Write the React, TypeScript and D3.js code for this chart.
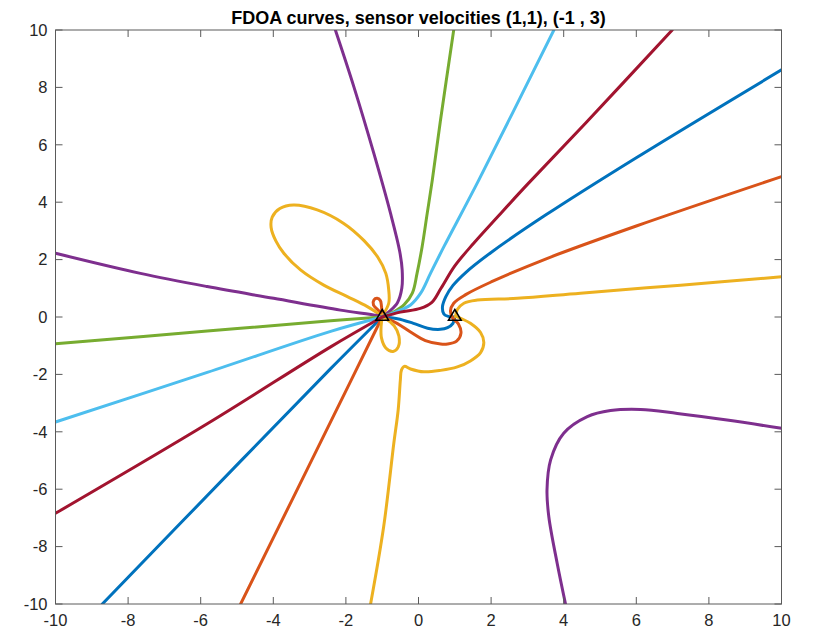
import React from 'react';
import * as d3 from 'd3';

type Pt = [number, number];

const title = 'FDOA curves, sensor velocities (1,1), (-1 , 3)';
const xTicks = [-10, -8, -6, -4, -2, 0, 2, 4, 6, 8, 10];
const yTicks = [-10, -8, -6, -4, -2, 0, 2, 4, 6, 8, 10];
const tickLabels = ['-10', '-8', '-6', '-4', '-2', '0', '2', '4', '6', '8', '10'];

const sensors: Pt[] = [[-1, 0], [1, 0]];

// blue contour
const blueUpper: Pt[] = [
  [10, 8.61], [6, 5.55], [3.5, 3.55], [2.0, 2.25], [1.3, 1.55], [0.95, 1.1],
  [0.75, 0.7], [0.66, 0.35], [0.7, 0.1], [0.82, 0.02], [1.0, 0.0],
];
const blueMiddle: Pt[] = [
  [1.0, 0.0], [0.95, -0.22], [0.8, -0.37], [0.6, -0.43], [0.25, -0.39], [-0.14, -0.22],
  [-0.58, -0.06], [-1, 0],
];
const blueLower: Pt[] = [[-1, 0], [-2.42, -1.8], [-4.86, -4.97], [-8.71, -10]];

// orange contour
const orangeUpper: Pt[] = [
  [10, 4.89], [6, 3.17], [3.5, 2.02], [2.0, 1.22], [1.3, 0.78], [0.97, 0.48],
  [0.88, 0.21], [0.94, -0.03], [1.1, -0.24], [1.17, -0.56], [1.05, -0.84],
  [0.8, -0.94], [0.61, -0.94], [0.19, -0.82], [-0.22, -0.52], [-0.58, -0.23],
  [-0.91, -0.03], [-1, 0],
];
const orangeLower: Pt[] = [[-1, 0], [-2.33, -3.42], [-4.9, -10]];
const orangePetal: Pt[] = [
  [-1.0, 0.03], [-1.09, 0.21], [-1.24, 0.42], [-1.23, 0.59], [-1.14, 0.65],
  [-1.05, 0.57], [-1.02, 0.38], [-1.0, 0.03],
];

// yellow contour
const yellowRight: Pt[] = [
  [10, 1.4], [7.22, 1.11], [4.46, 0.83], [2.72, 0.65], [1.62, 0.59], [1.25, 0.48],
  [1.07, 0.26], [1.02, 0.02],
];
const yellowLoop: Pt[] = [
  [1.02, 0.02], [1.22, -0.08], [1.43, -0.22], [1.71, -0.54], [1.8, -0.89], [1.71, -1.24],
  [1.43, -1.53], [1.07, -1.74], [0.61, -1.86], [0.15, -1.91], [-0.22, -1.81],
  [-0.39, -1.72], [-0.47, -1.85], [-0.5, -2.2], [-0.56, -3.24], [-0.68, -4.4],
  [-0.96, -7.31], [-1.32, -10],
];
const yellowLobe: Pt[] = [
  [-1.0, 0.03], [-0.82, 0.48], [-0.82, 0.94], [-0.9, 1.52], [-1.12, 2.08], [-1.5, 2.66],
  [-2.06, 3.26], [-2.79, 3.73], [-3.44, 3.9], [-3.82, 3.78], [-4.03, 3.48], [-4.06, 3.12],
  [-3.93, 2.65], [-3.71, 2.22], [-3.25, 1.64], [-2.61, 1.11], [-1.96, 0.71],
  [-1.41, 0.36], [-1.0, 0.03],
];
const yellowPetal: Pt[] = [
  [-1.0, 0.0], [-1.03, -0.31], [-1.02, -0.73], [-0.9, -1.08], [-0.7, -1.2],
  [-0.56, -1.05], [-0.54, -0.66], [-0.67, -0.31], [-0.91, -0.05], [-1.0, 0.0],
];

// purple contours
const purpleUpper: Pt[] = [
  [-2.29, 10], [-1.78, 8.02], [-1.23, 5.7], [-0.77, 3.61], [-0.52, 2.3], [-0.45, 1.64],
  [-0.46, 1.0], [-0.58, 0.5], [-0.8, 0.2], [-1, 0],
];
const purpleLeft: Pt[] = [
  [-10, 2.22], [-7.66, 1.52], [-5.82, 1.06], [-3.99, 0.65], [-2.15, 0.24], [-1.14, 0.05],
  [-1, 0],
];
const purpleBowl: Pt[] = [
  [4.05, -10], [3.82, -8.58], [3.59, -6.96], [3.54, -6.03], [3.64, -4.98], [4.0, -4.05],
  [4.65, -3.47], [5.29, -3.26], [6.12, -3.22], [7.13, -3.36], [8.5, -3.59], [10, -3.88],
];

// green contours
const greenUpper: Pt[] = [
  [0.97, 10], [0.6, 6.8], [0.38, 4.77], [0.24, 3.61], [0.1, 2.45],
  [-0.04, 1.52], [-0.17, 0.83], [-0.4, 0.42], [-0.68, 0.18], [-1, 0],
];
const greenLeft: Pt[] = [[-10, -0.93], [-5.82, -0.49], [-2.42, -0.13], [-1, 0]];

// light blue contours
const lightBlueUpper: Pt[] = [
  [3.73, 10], [1.66, 4.77], [0.7, 2.45], [0.33, 1.52], [0.06, 0.83], [-0.22, 0.42],
  [-0.5, 0.24], [-1, 0],
];
const lightBlueLeft: Pt[] = [[-10, -3.66], [-5.82, -1.93], [-2.42, -0.5], [-1, 0]];

// dark red contours
const redUpper: Pt[] = [
  [6.99, 10], [4.6, 6.75], [3.0, 4.62], [2.2, 3.52], [1.52, 2.57], [1.0, 1.78],
  [0.62, 1.0], [0.36, 0.5], [0.05, 0.3], [-0.5, 0.17], [-1, 0],
];
const redLeft: Pt[] = [[-10, -6.84], [-5.82, -3.72], [-2.42, -1.04], [-1, 0]];

const blue = '#0072BD';
const orange = '#D95319';
const yellow = '#EDB120';
const purple = '#7E2F8E';
const green = '#77AC30';
const lightBlue = '#4DBEEE';
const red = '#A2142F';

const curves: { color: string; pts: Pt[] }[] = [
  { color: blue, pts: blueUpper },
  { color: blue, pts: blueMiddle },
  { color: blue, pts: blueLower },
  { color: orange, pts: orangeUpper },
  { color: orange, pts: orangeLower },
  { color: orange, pts: orangePetal },
  { color: yellow, pts: yellowRight },
  { color: yellow, pts: yellowLoop },
  { color: yellow, pts: yellowLobe },
  { color: yellow, pts: yellowPetal },
  { color: purple, pts: purpleUpper },
  { color: purple, pts: purpleLeft },
  { color: purple, pts: purpleBowl },
  { color: green, pts: greenUpper },
  { color: green, pts: greenLeft },
  { color: lightBlue, pts: lightBlueUpper },
  { color: lightBlue, pts: lightBlueLeft },
  { color: red, pts: redUpper },
  { color: red, pts: redLeft },
];

const font = 'Helvetica, "Liberation Sans", Arial, sans-serif';

export default function App() {
  const width = 813;
  const height = 630;
  const left = 55.5;
  const right = 781.5;
  const top = 30;
  const bottom = 604;
  const tickLen = 7;
  const axisColor = '#5a5a5a';
  const textColor = '#262626';

  const x = d3.scaleLinear().domain([-10, 10]).range([left, right]);
  const y = d3.scaleLinear().domain([-10, 10]).range([bottom, top]);

  const line = d3
    .line<Pt>()
    .x((d) => x(d[0]))
    .y((d) => y(d[1]))
    .curve(d3.curveCatmullRom.alpha(0.5));

  const triangle = (p: Pt) => {
    const cx = x(p[0]);
    const cy = y(p[1]);
    return `M${cx},${cy - 7.5}L${cx + 6.3},${cy + 3.2}L${cx - 6.3},${cy + 3.2}Z`;
  };

  return (
    <svg
      width={width}
      height={height}
      style={{ position: 'absolute', left: 0, top: 0, background: '#fff' }}
    >
      <defs>
        <clipPath id="plot-area">
          <rect x={left} y={top} width={right - left} height={bottom - top} />
        </clipPath>
      </defs>
      <rect x={0} y={0} width={width} height={height} fill="#fff" />

      <g clipPath="url(#plot-area)">
        {curves.map((c, i) => (
          <path
            key={i}
            d={line(c.pts) || ''}
            fill="none"
            stroke={c.color}
            strokeWidth={3}
            strokeLinejoin="round"
            strokeLinecap="round"
          />
        ))}
      </g>

      {sensors.map((s, i) => (
        <path key={i} d={triangle(s)} fill="none" stroke="#000" strokeWidth={1.6} strokeLinejoin="miter" />
      ))}

      <rect
        x={left}
        y={top}
        width={right - left}
        height={bottom - top}
        fill="none"
        stroke={axisColor}
        strokeWidth={1}
      />

      {xTicks.map((t) => (
        <g key={`x${t}`}>
          <line x1={x(t)} x2={x(t)} y1={bottom} y2={bottom - tickLen} stroke={axisColor} strokeWidth={1} />
          <line x1={x(t)} x2={x(t)} y1={top} y2={top + tickLen} stroke={axisColor} strokeWidth={1} />
        </g>
      ))}
      {yTicks.map((t) => (
        <g key={`y${t}`}>
          <line x1={left} x2={left + tickLen} y1={y(t)} y2={y(t)} stroke={axisColor} strokeWidth={1} />
          <line x1={right} x2={right - tickLen} y1={y(t)} y2={y(t)} stroke={axisColor} strokeWidth={1} />
        </g>
      ))}

      {xTicks.map((t, i) => (
        <text
          key={`xl${t}`}
          x={x(t)}
          y={bottom + 22}
          textAnchor="middle"
          fontFamily={font}
          fontSize={16.5}
          fill={textColor}
        >
          {tickLabels[i]}
        </text>
      ))}
      {yTicks.map((t, i) => (
        <text
          key={`yl${t}`}
          x={left - 8}
          y={y(t)}
          dy="0.35em"
          textAnchor="end"
          fontFamily={font}
          fontSize={16.5}
          fill={textColor}
        >
          {tickLabels[i]}
        </text>
      ))}

      <text
        x={(left + right) / 2}
        y={24}
        textAnchor="middle"
        fontFamily={font}
        fontSize={18}
        fontWeight="bold"
        fill="#000"
      >
        {title}
      </text>
    </svg>
  );
}
